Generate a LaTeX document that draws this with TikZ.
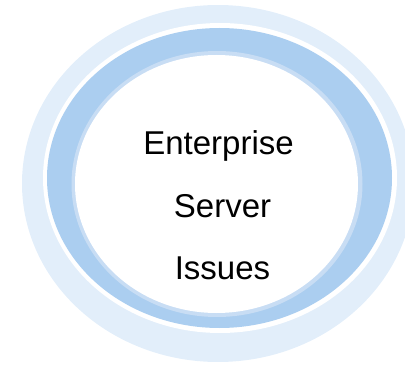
\documentclass[tikz,border=0pt]{standalone}
\usepackage{fontspec}
\setmainfont{Liberation Sans}
\definecolor{ringlight}{HTML}{E2EEFA}
\definecolor{ringblue}{HTML}{ABCEF0}
\definecolor{ringedge}{HTML}{C8DDF4}
\begin{document}
\begin{tikzpicture}[x=1pt,y=1pt,
  label/.style={font=\fontsize{33}{36}\selectfont, text=black, inner sep=0pt, anchor=base}]
\useasboundingbox (0,0) rectangle (405,365);
\clip (0,0) rectangle (405,365);
% outer light ring
\fill[ringlight] (218,181.5) ellipse [x radius=196, y radius=178.5];
\fill[white] (220,187) ellipse [x radius=177, y radius=155];
% blue ring
\fill[ringblue] (219.5,187) ellipse [x radius=172.5, y radius=150];
\fill[ringedge] (217,181) ellipse [x radius=145.5, y radius=133];
\fill[white] (216.5,181) ellipse [x radius=141.5, y radius=129];
% text
\node[label] (l1) at (218.5,210) {Enterprise};
\node[label] (l2) at (222.5,147) {Server};
\node[label] (l3) at (222.5,85) {Issues};
\end{tikzpicture}
\end{document}
